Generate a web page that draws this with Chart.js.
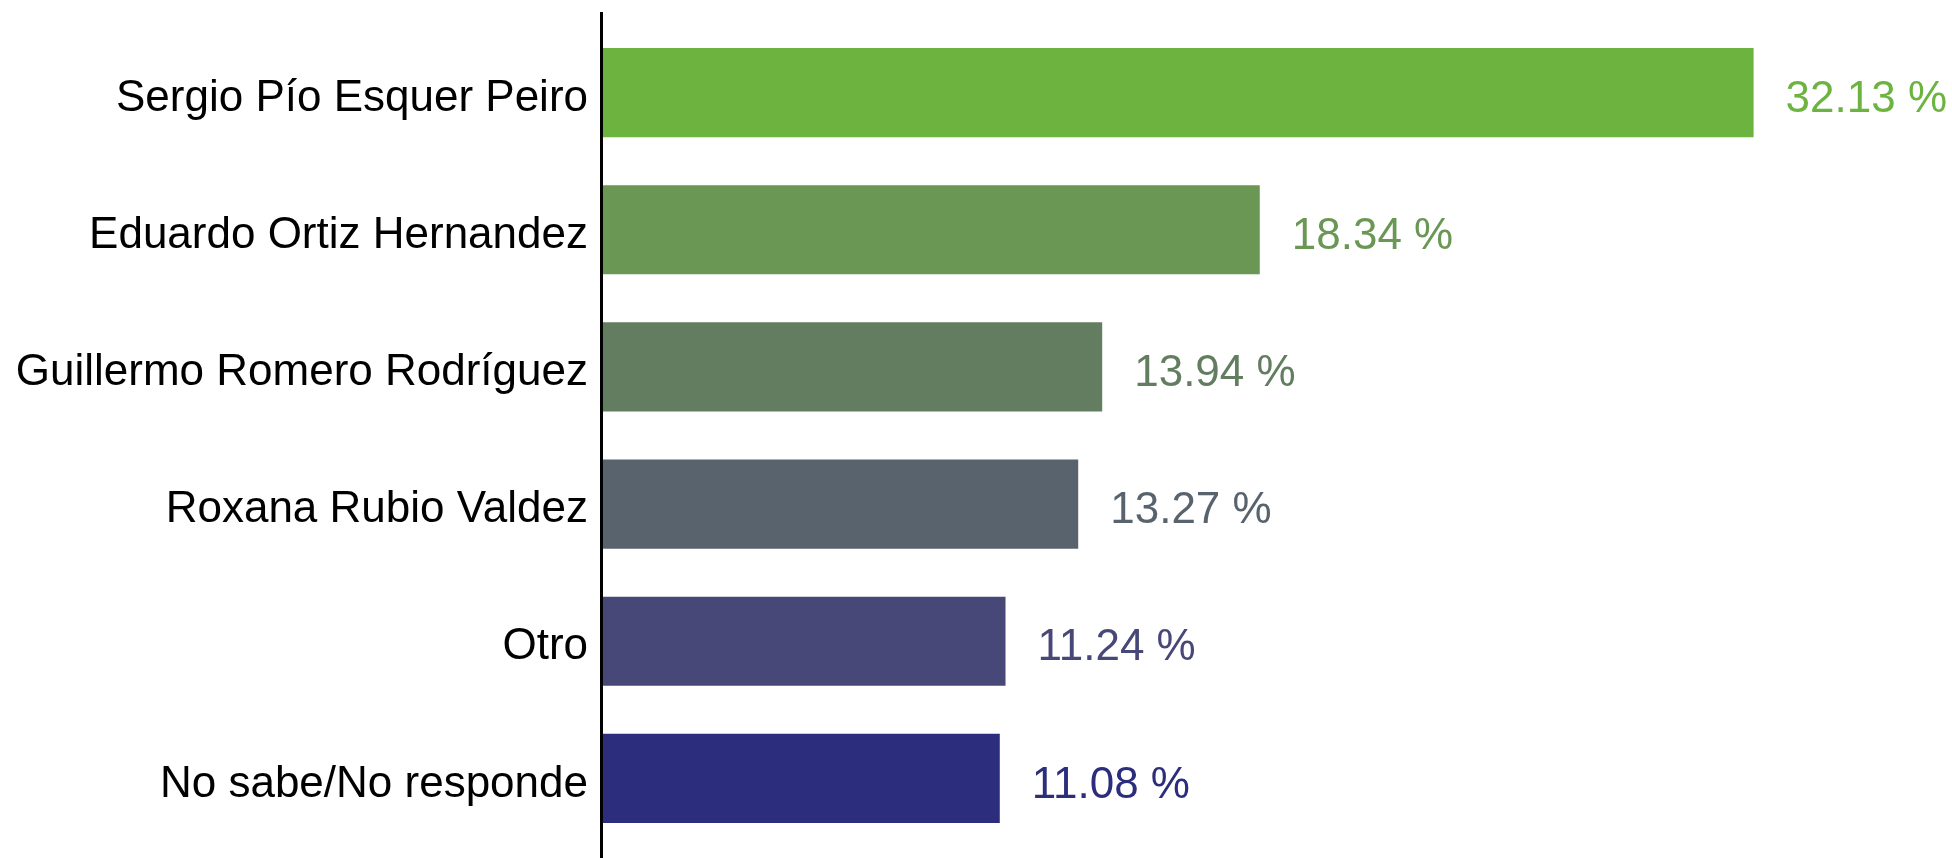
<!DOCTYPE html>
<html>
<head>
<meta charset="utf-8">
<title>Intención de voto</title>
<script src="https://cdn.jsdelivr.net/npm/chart.js@4"></script>
<style>
  html, body { margin: 0; padding: 0; background: #fff; }
  canvas { display: block; }
</style>
</head>
<body>
<canvas id="chart" width="1952" height="858"></canvas>
<script>
const candidates = [
  "Sergio Pío Esquer Peiro",
  "Eduardo Ortiz Hernandez",
  "Guillermo Romero Rodríguez",
  "Roxana Rubio Valdez",
  "Otro",
  "No sabe/No responde"
];
const percentages = [32.13, 18.34, 13.94, 13.27, 11.24, 11.08];
const barColors = ["#6db33f", "#6a9753", "#627d60", "#59636e", "#484878", "#2d2d7d"];

const FONT = "'Liberation Sans', Arial, sans-serif";

// value labels to the right of each bar
const valueLabels = {
  id: "valueLabels",
  afterDatasetsDraw(chart) {
    const ctx = chart.ctx;
    const meta = chart.getDatasetMeta(0);
    ctx.save();
    ctx.font = "44px " + FONT;
    ctx.textAlign = "left";
    ctx.textBaseline = "middle";
    meta.data.forEach((bar, i) => {
      ctx.fillStyle = barColors[i];
      ctx.fillText(percentages[i].toFixed(2) + " %", bar.x + 32, bar.y + 7);
    });
    ctx.restore();
  }
};

// black vertical axis line, running a bit past the plot area
const axisLine = {
  id: "axisLine",
  beforeDatasetsDraw(chart) {
    const ctx = chart.ctx;
    const x = chart.chartArea.left - 1.5;
    ctx.save();
    ctx.strokeStyle = "#000";
    ctx.lineWidth = 3;
    ctx.beginPath();
    ctx.moveTo(x, chart.chartArea.top - 12);
    ctx.lineTo(x, chart.height);
    ctx.stroke();
    ctx.restore();
  }
};

new Chart(document.getElementById("chart"), {
  type: "bar",
  data: {
    labels: candidates,
    datasets: [{
      data: percentages,
      backgroundColor: barColors,
      borderWidth: 0,
      barPercentage: 0.65,
      categoryPercentage: 1
    }]
  },
  options: {
    indexAxis: "y",
    responsive: false,
    animation: false,
    devicePixelRatio: 1,
    layout: { padding: { top: 24, bottom: 11, right: 24, left: 0 } },
    plugins: {
      legend: { display: false },
      tooltip: { enabled: false }
    },
    scales: {
      x: {
        min: 0,
        max: 37,
        display: false
      },
      y: {
        grid: { display: false, drawTicks: false },
        border: { display: false },
        ticks: {
          color: "#000",
          padding: 15,
          labelOffset: 6,
          font: { family: FONT, size: 44 }
        },
        afterFit(scale) {
          scale.width = 603;
          scale.paddingTop = 0;
          scale.paddingBottom = 0;
        }
      }
    }
  },
  plugins: [axisLine, valueLabels]
});
</script>
</body>
</html>
